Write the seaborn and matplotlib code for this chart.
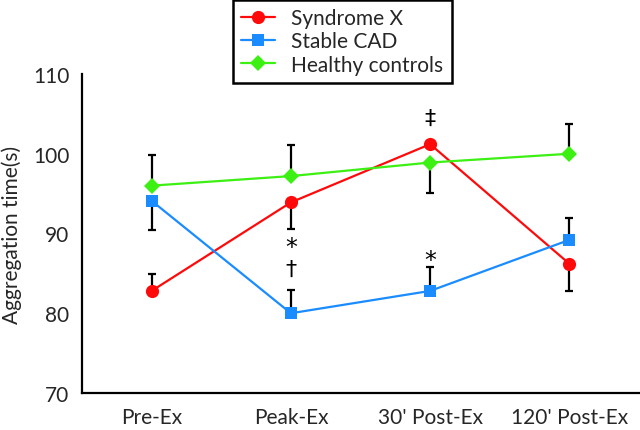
import matplotlib
matplotlib.use("Agg")
import matplotlib.pyplot as plt
import seaborn as sns
import pandas as pd
import numpy as np

# Values
categories = ["Pre-Ex", "Peak-Ex", "30' Post-Ex", "120' Post-Ex"]
groups = ["Syndrome X", "Stable CAD", "Healthy controls"]

syndrome_x = [82.8, 93.9, 101.2, 86.2]
syndrome_x_lo = [0.0, 3.3, 0.0, 3.4]
syndrome_x_hi = [2.1, 0.0, 0.0, 0.0]

stable_cad = [94.1, 80.0, 82.8, 89.2]
stable_cad_lo = [3.7, 0.0, 0.0, 0.0]
stable_cad_hi = [0.0, 2.9, 3.0, 2.7]

healthy = [96.0, 97.2, 98.9, 100.0]
healthy_lo = [0.0, 0.0, 3.8, 0.0]
healthy_hi = [3.8, 3.9, 0.0, 3.7]

# significance marks: (group, category index, symbol, where)
marks = [
    ("Syndrome X", 1, "*", "below_bar"),
    ("Stable CAD", 1, "\u2020", "above_bar"),
    ("Syndrome X", 2, "\u2021", "above_point"),
    ("Stable CAD", 2, "*", "above_bar"),
]

colors = {"Syndrome X": "#ff0a0a", "Stable CAD": "#1a8cff", "Healthy controls": "#3cf014"}
markers = {"Syndrome X": "o", "Stable CAD": "s", "Healthy controls": "D"}
sizes = {"Syndrome X": 9.5, "Stable CAD": 8.5, "Healthy controls": 8}

values = {"Syndrome X": syndrome_x, "Stable CAD": stable_cad, "Healthy controls": healthy}
lows = {"Syndrome X": syndrome_x_lo, "Stable CAD": stable_cad_lo, "Healthy controls": healthy_lo}
highs = {"Syndrome X": syndrome_x_hi, "Stable CAD": stable_cad_hi, "Healthy controls": healthy_hi}

rows = []
for g in groups:
    for i, v in enumerate(values[g]):
        rows.append({"pos": i, "Aggregation time(s)": v, "group": g})
df = pd.DataFrame(rows)

sns.set_style("white")
plt.rcParams["font.family"] = ["Lato", "DejaVu Sans"]
plt.rcParams["font.size"] = 15

fig = plt.figure(figsize=(6.4, 4.31), dpi=100)
ax = fig.add_axes([82 / 640, 37 / 431, 557 / 640, 319 / 431])

# error bars first so the markers sit on top
for g in groups:
    x = np.arange(len(categories))
    ax.errorbar(x, values[g], yerr=[lows[g], highs[g]], fmt="none", ecolor="black",
                elinewidth=1.6, capsize=3, capthick=1.6, zorder=2)

for g in groups:
    sub = df[df["group"] == g]
    sns.lineplot(data=sub, x="pos", y="Aggregation time(s)", color=colors[g],
                 lw=1.6, ax=ax, zorder=3, legend=False)
    ax.plot(sub["pos"], sub["Aggregation time(s)"], ls="none", marker=markers[g],
            ms=sizes[g], color=colors[g], mec=colors[g], mew=0, zorder=4, label=g)

for g, i, sym, where in marks:
    v = values[g][i]
    if where == "below_bar":
        y, off = v - lows[g][i], -11
    elif where == "above_bar":
        y, off = v + highs[g][i], 7 if sym == "*" else 15
    else:
        y, off = v, 19
    if sym == "*":
        ax.annotate(sym, (i, y), xytext=(0, off - 2), textcoords="offset points",
                    ha="center", va="center", fontsize=17, color="black",
                    family="DejaVu Sans")
    else:
        ax.annotate(sym, (i, y), xytext=(0, off), textcoords="offset points",
                    ha="center", va="center", fontsize=16, color="black",
                    family="DejaVu Sans")

ax.set_xlim(-0.5, 3.5)
ax.set_ylim(70, 110)
ax.set_yticks([70, 80, 90, 100, 110])
ax.set_xticks(range(len(categories)))
ax.set_xticklabels(categories)
ax.set_xticks([0.5, 1.5, 2.5, 3.5], minor=True)
ax.tick_params(axis="x", which="major", length=0, pad=10)
ax.tick_params(axis="x", which="minor", direction="in", length=5, width=1.6)
ax.tick_params(axis="y", direction="in", length=5, width=1.6, pad=9)
ax.set_ylabel("Aggregation time(s)", labelpad=8)
ax.set_xlabel("")

sns.despine(ax=ax)
for s in ["left", "bottom"]:
    ax.spines[s].set_linewidth(1.6)
    ax.spines[s].set_color("black")

leg = ax.legend(loc="upper left", bbox_to_anchor=(233 / 640, 1 - 1 / 431),
                bbox_transform=fig.transFigure, borderaxespad=0,
                frameon=True, fancybox=False, framealpha=1, edgecolor="black",
                handlelength=1.6, handletextpad=0.8, labelspacing=0.15,
                borderpad=0.4, fontsize=15)
leg.get_frame().set_linewidth(1.8)
for h in leg.legend_handles:
    h.set_linestyle("-")
    h.set_linewidth(1.6)

plt.savefig("out.png", dpi=100)
